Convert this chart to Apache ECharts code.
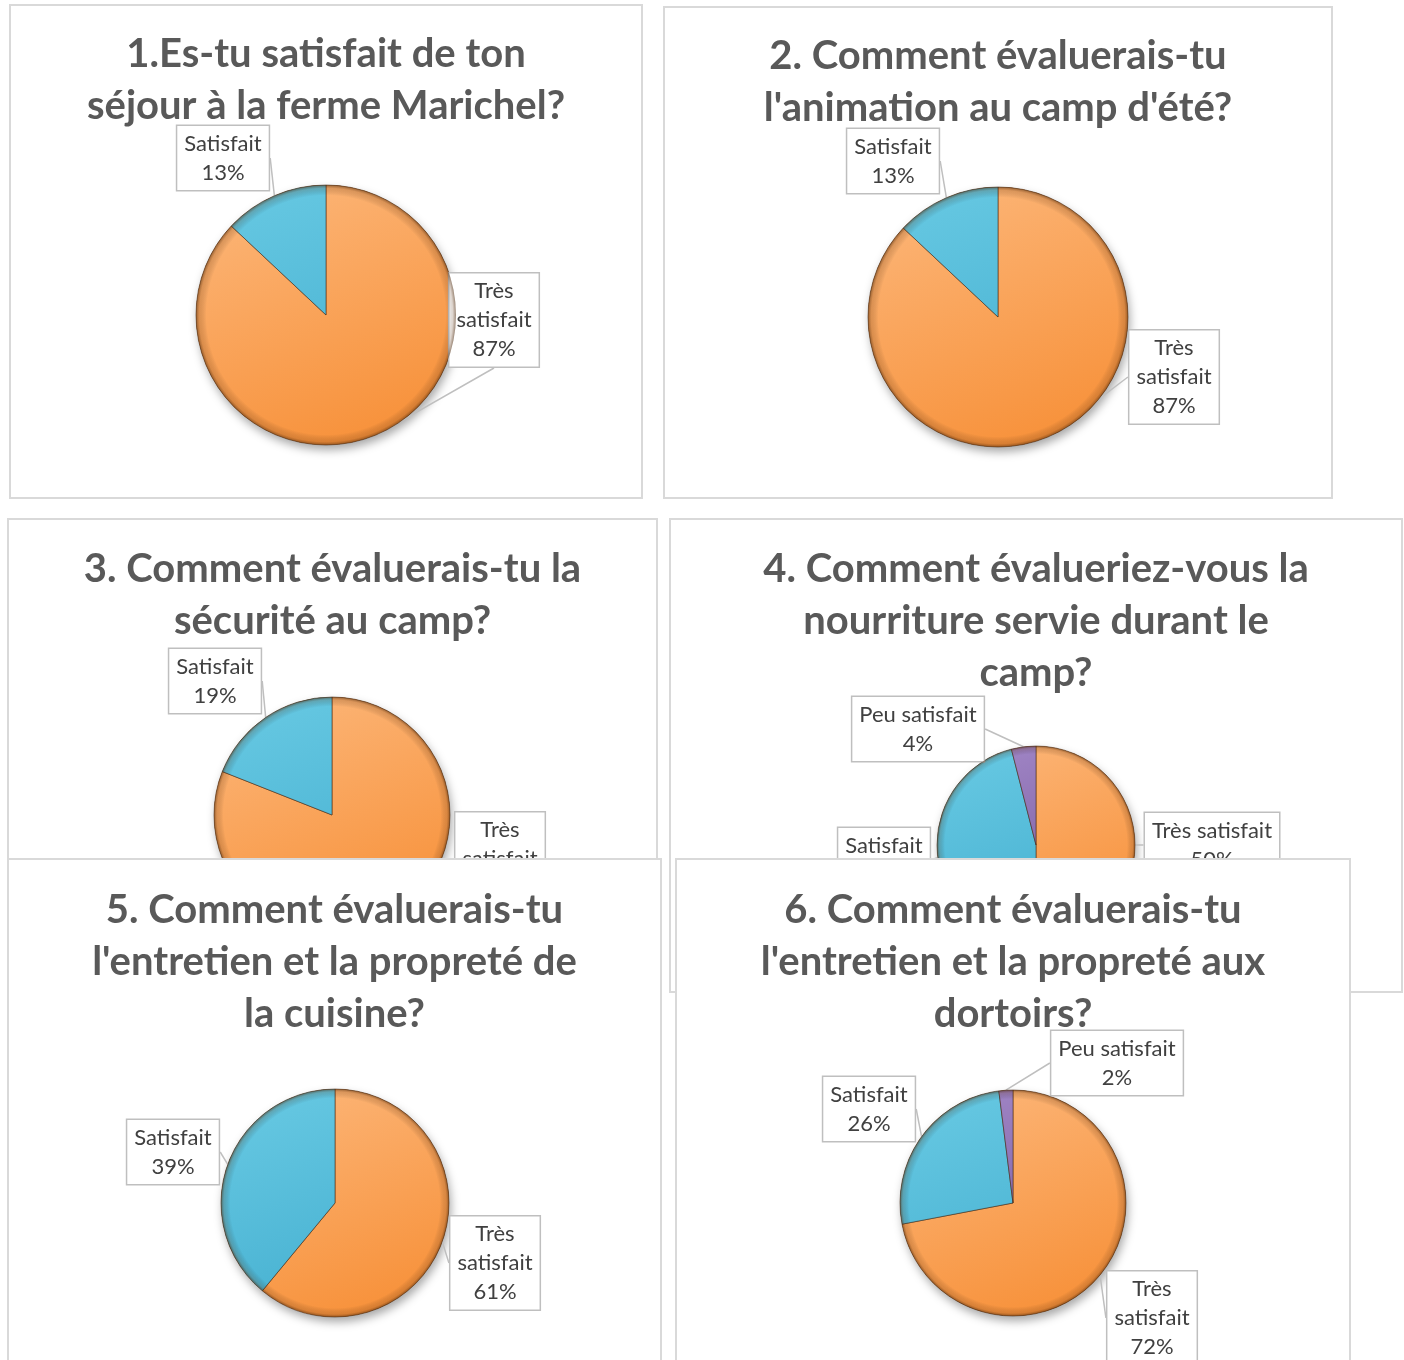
<!DOCTYPE html>
<html>
<head>
<meta charset="utf-8">
<script src="https://cdn.jsdelivr.net/npm/echarts@6/dist/echarts.min.js"></script>
<style>
  html, body { margin: 0; padding: 0; background: #ffffff; }
  body { position: relative; width: 1404px; height: 1360px; overflow: hidden; }
  .panel { position: absolute; background: #ffffff; box-shadow: inset 0 0 0 2px #d9d9d9; }
  .chart { position: absolute; left: 0; top: 0; width: 100%; height: 100%; }
</style>
</head>
<body>
<script>
// ---------------- DATA ----------------
const categories = ['Très satisfait', 'Satisfait', 'Peu satisfait'];
const titles = [
  '1.Es-tu satisfait de ton\nséjour à la ferme Marichel?',
  "2. Comment évaluerais-tu\nl'animation au camp d'été?",
  '3. Comment évaluerais-tu la\nsécurité au camp?',
  '4. Comment évalueriez-vous la\nnourriture servie durant le\ncamp?',
  "5. Comment évaluerais-tu\nl'entretien et la propreté de\nla cuisine?",
  "6. Comment évaluerais-tu\nl'entretien et la propreté aux\ndortoirs?"
];
const q1Values = [87, 13];
const q2Values = [87, 13];
const q3Values = [81, 19];
const q4Values = [50, 46, 4];
const q5Values = [61, 39];
const q6Values = [72, 26, 2];
const allValues = [q1Values, q2Values, q3Values, q4Values, q5Values, q6Values];

// ---------------- LAYOUT (positions / sizes only) ----------------
const layout = [
  { left: 9,   top: 4,   w: 634, h: 495, cx: 317, cy: 311, r: 130, titleY: 45, wrap: true,
    labels: [[485, 316], [214, 154]] },
  { left: 663, top: 6,   w: 670, h: 493, cx: 335, cy: 311, r: 130, titleY: 45, wrap: true,
    labels: [[511, 371], [230, 155]] },
  { left: 7,   top: 518, w: 651, h: 468, cx: 325, cy: 297, r: 118, titleY: 46, wrap: true,
    labels: [[493, 341], [208, 163]] },
  { left: 669, top: 518, w: 734, h: 475, cx: 367, cy: 327, r: 99,  titleY: 46, wrap: false,
    labels: [[543, 327], [215, 342], [249, 211]] },
  { left: 7,   top: 858, w: 655, h: 560, cx: 328, cy: 345, r: 114, titleY: 47, wrap: true,
    labels: [[488, 405], [166, 294]] },
  { left: 675, top: 858, w: 676, h: 560, cx: 338, cy: 345, r: 113, titleY: 47, wrap: true,
    labels: [[477, 460], [194, 251], [442, 205]] }
];

const palette = [
  ['#FCB577', '#F7913A'],  // orange
  ['#66C8E2', '#43AECF'],  // blue
  ['#A186C6', '#74579A']   // purple
];

function grad(i, L) {
  return {
    type: 'linear', global: true,
    x: L.cx - L.r * 0.5, y: L.cy - L.r, x2: L.cx + L.r * 0.3, y2: L.cy + L.r,
    colorStops: [{ offset: 0, color: palette[i][0] }, { offset: 1, color: palette[i][1] }]
  };
}

const FONT = 'Lato, "Noto Sans", sans-serif';

layout.forEach(function (L, p) {
  const panel = document.createElement('div');
  panel.className = 'panel';
  panel.style.left = L.left + 'px';
  panel.style.top = L.top + 'px';
  panel.style.width = L.w + 'px';
  panel.style.height = L.h + 'px';
  const el = document.createElement('div');
  el.className = 'chart';
  panel.appendChild(el);
  document.body.appendChild(panel);

  const vals = allValues[p];
  const data = vals.map(function (v, i) {
    return { name: categories[i], value: v, itemStyle: { color: grad(i, L) } };
  });

  const chart = echarts.init(el, null, { renderer: 'canvas', width: L.w, height: L.h });
  chart.setOption({
    animation: false,
    title: {
      text: titles[p],
      left: 'center',
      top: L.titleY - 26,
      textStyle: {
        fontFamily: FONT,
        fontWeight: 'bold',
        fontSize: 40,
        lineHeight: 52,
        color: '#595959'
      }
    },
    series: [
      {
        type: 'pie',
        silent: true,
        z: 1,
        center: [L.cx, L.cy],
        radius: L.r,
        label: { show: false },
        labelLine: { show: false },
        data: [{ value: 1, itemStyle: {
          color: '#9a6a40',
          shadowBlur: 10, shadowColor: 'rgba(0,0,0,0.35)', shadowOffsetX: 2, shadowOffsetY: 5 } }]
      },
      {
        type: 'pie',
        z: 2,
        center: [L.cx, L.cy],
        radius: L.r,
        startAngle: 90,
        clockwise: true,
        avoidLabelOverlap: false,
        itemStyle: { borderColor: 'rgba(70,40,20,0.55)', borderWidth: 1 },
        label: {
          show: true,
          position: 'outside',
          formatter: function (prm) {
            const nm = (L.wrap && prm.name === 'Très satisfait') ? 'Très\nsatisfait' : prm.name;
            return nm + '\n' + Math.round(prm.percent) + '%';
          },
          fontFamily: FONT,
          fontSize: 22,
          lineHeight: 29,
          color: '#404040',
          align: 'center',
          backgroundColor: '#ffffff',
          borderColor: '#bfbfbf',
          borderWidth: 1.5,
          padding: [3, 7, 3, 7]
        },
        labelLine: { show: true, length: 10, length2: 0, lineStyle: { color: '#bfbfbf', width: 1.5 } },
        labelLayout: function (params) {
          const pos = L.labels[params.dataIndex];
          return { x: pos[0], y: pos[1], align: 'center', verticalAlign: 'middle' };
        },
        data: data
      },
      {
        type: 'pie',
        silent: true,
        z: 3,
        center: [L.cx, L.cy],
        radius: L.r,
        label: { show: false },
        labelLine: { show: false },
        data: [{ value: 1, itemStyle: {
          color: {
            type: 'radial', x: 0.5, y: 0.5, r: 0.5,
            colorStops: [
              { offset: 0, color: 'rgba(0,0,0,0)' },
              { offset: 0.92, color: 'rgba(0,0,0,0)' },
              { offset: 0.975, color: 'rgba(90,45,10,0.2)' },
              { offset: 1, color: 'rgba(70,35,5,0.55)' }
            ]
          } } }]
      }
    ]
  });
});
</script>
</body>
</html>
